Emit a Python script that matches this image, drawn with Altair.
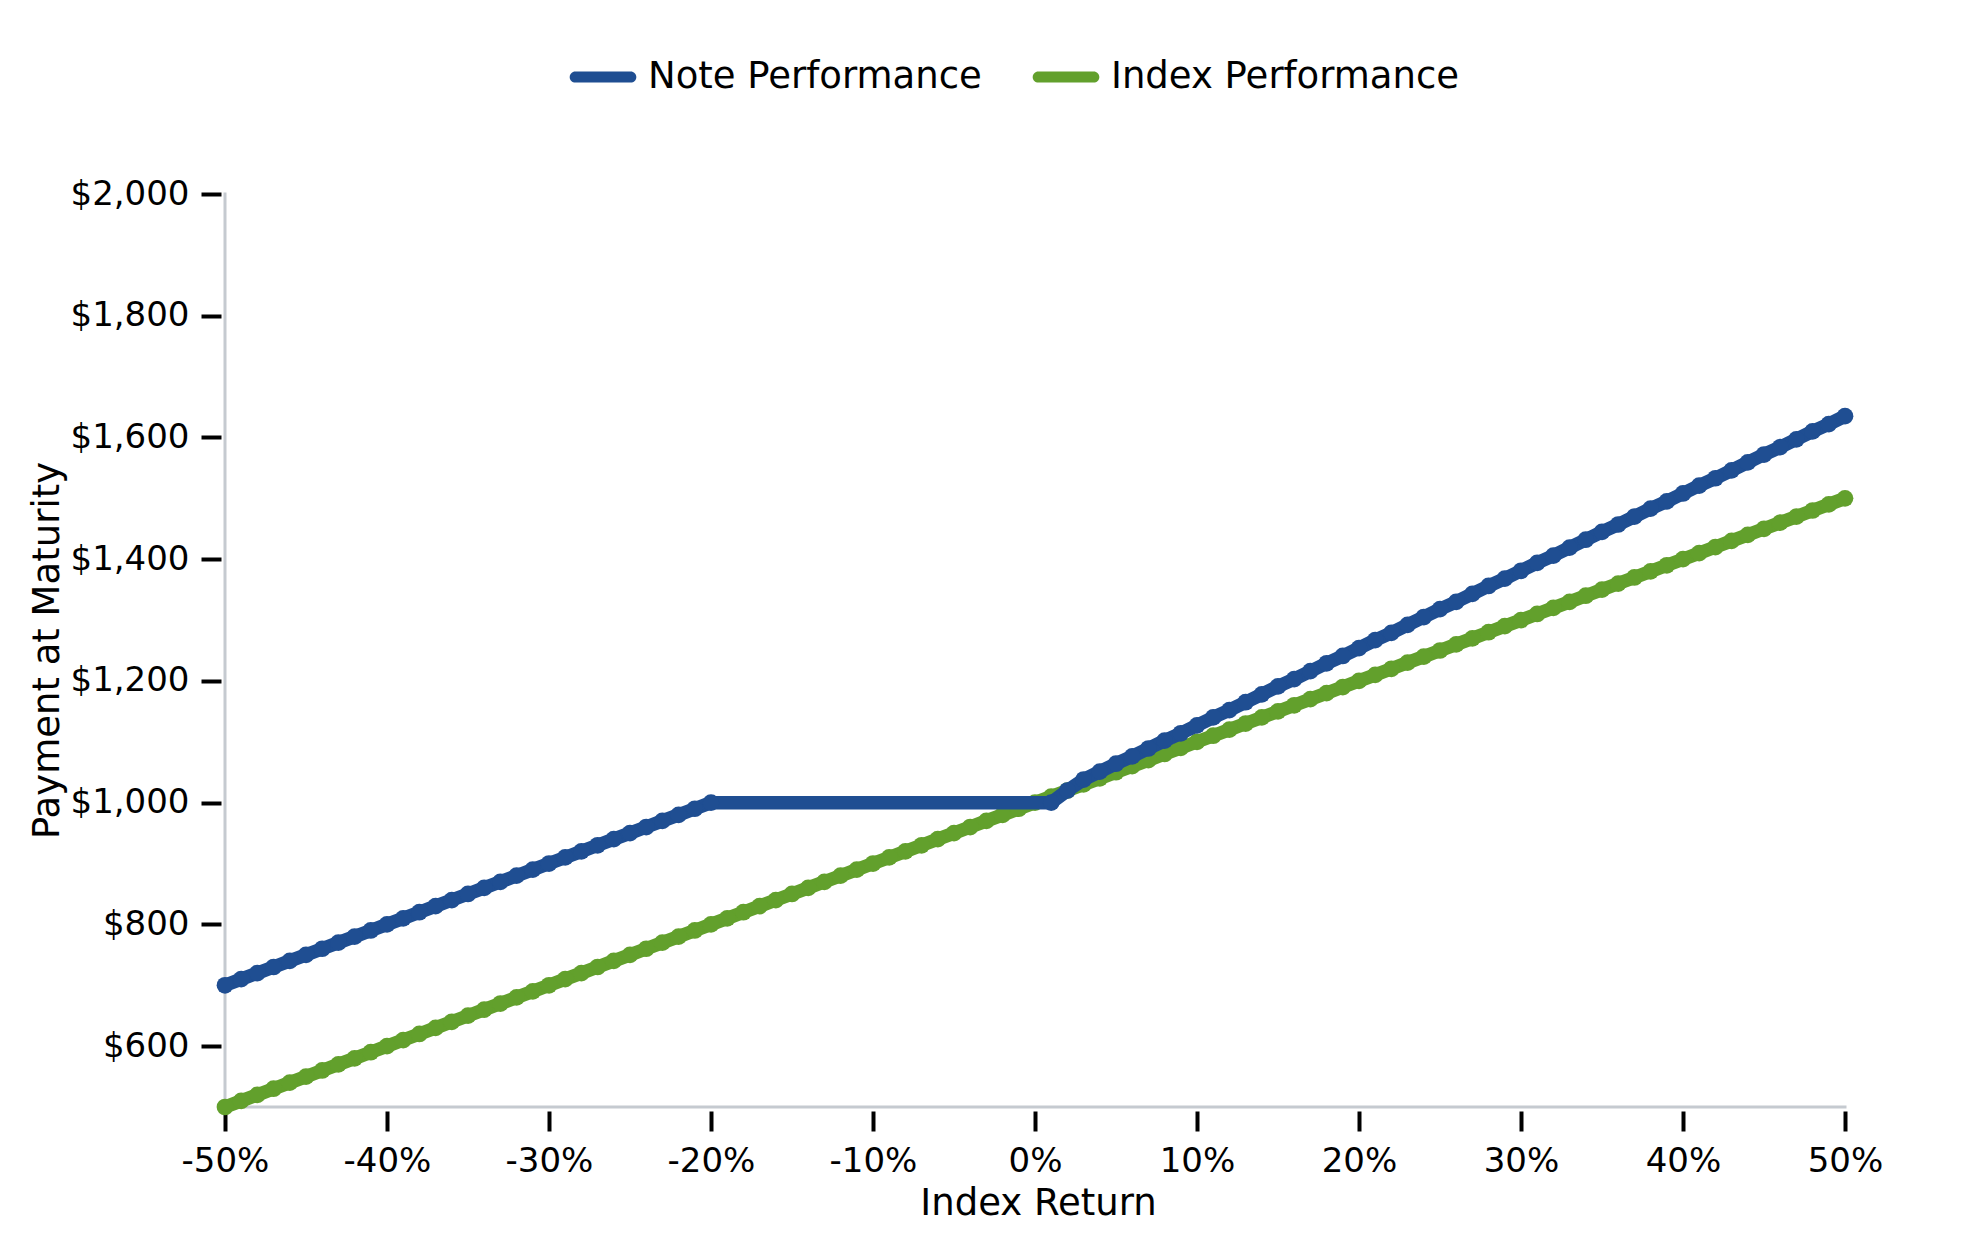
import altair as alt
import pandas as pd

# Index return grid (%) for the index series
index_return = [-50, -49, -48, -47, -46, -45, -44, -43, -42, -41,
                -40, -39, -38, -37, -36, -35, -34, -33, -32, -31,
                -30, -29, -28, -27, -26, -25, -24, -23, -22, -21,
                -20, -19, -18, -17, -16, -15, -14, -13, -12, -11,
                -10, -9, -8, -7, -6, -5, -4, -3, -2, -1,
                0, 1, 2, 3, 4, 5, 6, 7, 8, 9,
                10, 11, 12, 13, 14, 15, 16, 17, 18, 19,
                20, 21, 22, 23, 24, 25, 26, 27, 28, 29,
                30, 31, 32, 33, 34, 35, 36, 37, 38, 39,
                40, 41, 42, 43, 44, 45, 46, 47, 48, 49, 50]

# Value of a direct index investment ($)
index_payment = [500, 510, 520, 530, 540, 550, 560, 570, 580, 590,
                 600, 610, 620, 630, 640, 650, 660, 670, 680, 690,
                 700, 710, 720, 730, 740, 750, 760, 770, 780, 790,
                 800, 810, 820, 830, 840, 850, 860, 870, 880, 890,
                 900, 910, 920, 930, 940, 950, 960, 970, 980, 990,
                 1000, 1010, 1020, 1030, 1040, 1050, 1060, 1070, 1080, 1090,
                 1100, 1110, 1120, 1130, 1140, 1150, 1160, 1170, 1180, 1190,
                 1200, 1210, 1220, 1230, 1240, 1250, 1260, 1270, 1280, 1290,
                 1300, 1310, 1320, 1330, 1340, 1350, 1360, 1370, 1380, 1390,
                 1400, 1410, 1420, 1430, 1440, 1450, 1460, 1470, 1480, 1490, 1500]

# Index return points (%) of the note series (flat buffer zone is one segment)
note_return = [-50, -49, -48, -47, -46, -45, -44, -43, -42, -41,
               -40, -39, -38, -37, -36, -35, -34, -33, -32, -31,
               -30, -29, -28, -27, -26, -25, -24, -23, -22, -21,
               -20, 1, 2, 3, 4, 5, 6, 7, 8, 9,
               10, 11, 12, 13, 14, 15, 16, 17, 18, 19,
               20, 21, 22, 23, 24, 25, 26, 27, 28, 29,
               30, 31, 32, 33, 34, 35, 36, 37, 38, 39,
               40, 41, 42, 43, 44, 45, 46, 47, 48, 49, 50]

# Payment at maturity of the note ($)
note_payment = [700, 710, 720, 730, 740, 750, 760, 770, 780, 790,
                800, 810, 820, 830, 840, 850, 860, 870, 880, 890,
                900, 910, 920, 930, 940, 950, 960, 970, 980, 990,
                1000, 1000, 1020, 1038, 1051, 1064, 1076, 1089, 1102, 1114,
                1127, 1140, 1152, 1165, 1178, 1191, 1203, 1216, 1229, 1241,
                1254, 1267, 1279, 1292, 1305, 1318, 1330, 1343, 1356, 1368,
                1381, 1394, 1406, 1419, 1432, 1445, 1457, 1470, 1483, 1495,
                1508, 1521, 1533, 1546, 1559, 1572, 1584, 1597, 1610, 1622, 1635]

series_names = ["Note Performance", "Index Performance"]
series_colors = ["#1f4e92", "#62a02c"]
x_ticks = [-50, -40, -30, -20, -10, 0, 10, 20, 30, 40, 50]
y_ticks = [600, 800, 1000, 1200, 1400, 1600, 1800, 2000]
y_domain = [500, 2000]
x_domain = [-50, 50]

rows = []
for xv, v in zip(index_return, index_payment):
    rows.append({"ret": xv, "pay": v, "series": "Index Performance"})
for xv, v in zip(note_return, note_payment):
    rows.append({"ret": xv, "pay": v, "series": "Note Performance"})
df = pd.DataFrame(rows)

FONT = "DejaVu Sans"
capsule = "M -0.84 -0.17 L 0.84 -0.17 A 0.17 0.17 0 0 1 0.84 0.17 L -0.84 0.17 A 0.17 0.17 0 0 1 -0.84 -0.17 Z"

x_enc = alt.X("ret:Q",
              scale=alt.Scale(domain=x_domain, nice=False, zero=False),
              axis=alt.Axis(values=x_ticks, labelExpr="datum.value + '%'",
                            title="Index Return", grid=False, domain=False,
                            offset=4, tickSize=20, tickWidth=4, tickColor="black",
                            labelFontSize=34, labelFont=FONT, labelColor="black",
                            labelPadding=13, titleFontSize=37, titleFont=FONT,
                            titleFontWeight="normal", titleColor="black",
                            titleX=813, titleY=92, titleBaseline="middle",
                            labelFlush=False, labelOverlap=False))
y_enc = alt.Y("pay:Q",
              scale=alt.Scale(domain=y_domain, nice=False, zero=False),
              axis=alt.Axis(values=y_ticks, format="$,.0f",
                            title="Payment at Maturity", grid=False, domain=False,
                            offset=4, tickSize=20, tickWidth=4, tickColor="black",
                            labelFontSize=34, labelFont=FONT, labelColor="black",
                            labelPadding=12, titleFontSize=37, titleFont=FONT,
                            titleFontWeight="normal", titleColor="black",
                            titleX=-174, titleY=456, titleAlign="center",
                            titleBaseline="middle", titleAngle=-90,
                            labelFlush=False, labelOverlap=False))
color_enc = alt.Color("series:N",
                      scale=alt.Scale(domain=series_names, range=series_colors),
                      legend=alt.Legend(title=None, orient="none", direction="horizontal",
                                        legendX=345, legendY=-150,
                                        symbolType=capsule, symbolSize=4356,
                                        symbolStrokeWidth=0, symbolOpacity=1,
                                        labelFontSize=37, labelFont=FONT,
                                        labelColor="black", labelOffset=12,
                                        labelLimit=0, columnPadding=50, symbolLimit=0))

base = alt.Chart(df)


def series_layers(name):
    b = base.transform_filter(alt.datum.series == name)
    line = b.mark_line(strokeWidth=13.5, strokeCap="round", strokeJoin="round").encode(
        x=x_enc, y=y_enc, color=color_enc, order="ret:Q")
    pts = b.mark_point(size=280, filled=True, opacity=1, shape="circle").encode(
        x=x_enc, y=y_enc, color=color_enc)
    return [line, pts]


# axis domain lines drawn through the scales
axis_rows = pd.DataFrame({"x0": [x_domain[0]], "x1": [x_domain[1]],
                          "y0": [y_domain[0]], "y1": [y_domain[1]]})
dom_x = alt.Chart(axis_rows).mark_rule(color="#c5cad0", strokeWidth=3, strokeCap="square").encode(
    x=alt.X("x0:Q"), x2="x1:Q", y=alt.Y("y0:Q"))
dom_y = alt.Chart(axis_rows).mark_rule(color="#c5cad0", strokeWidth=3, strokeCap="square").encode(
    x=alt.X("x0:Q"), y=alt.Y("y0:Q"), y2="y1:Q")

layers = [dom_x, dom_y] + series_layers("Index Performance") + series_layers("Note Performance")

chart = alt.layer(*layers).properties(
    width=1620, height=913,
    background="white",
    autosize=alt.AutoSizeParams(type="none"),
    padding={"left": 217, "top": 186, "right": 120, "bottom": 135},
).configure_view(strokeWidth=0, stroke=None)

chart.save("out.html", embed_options={"renderer": "svg", "actions": False})
